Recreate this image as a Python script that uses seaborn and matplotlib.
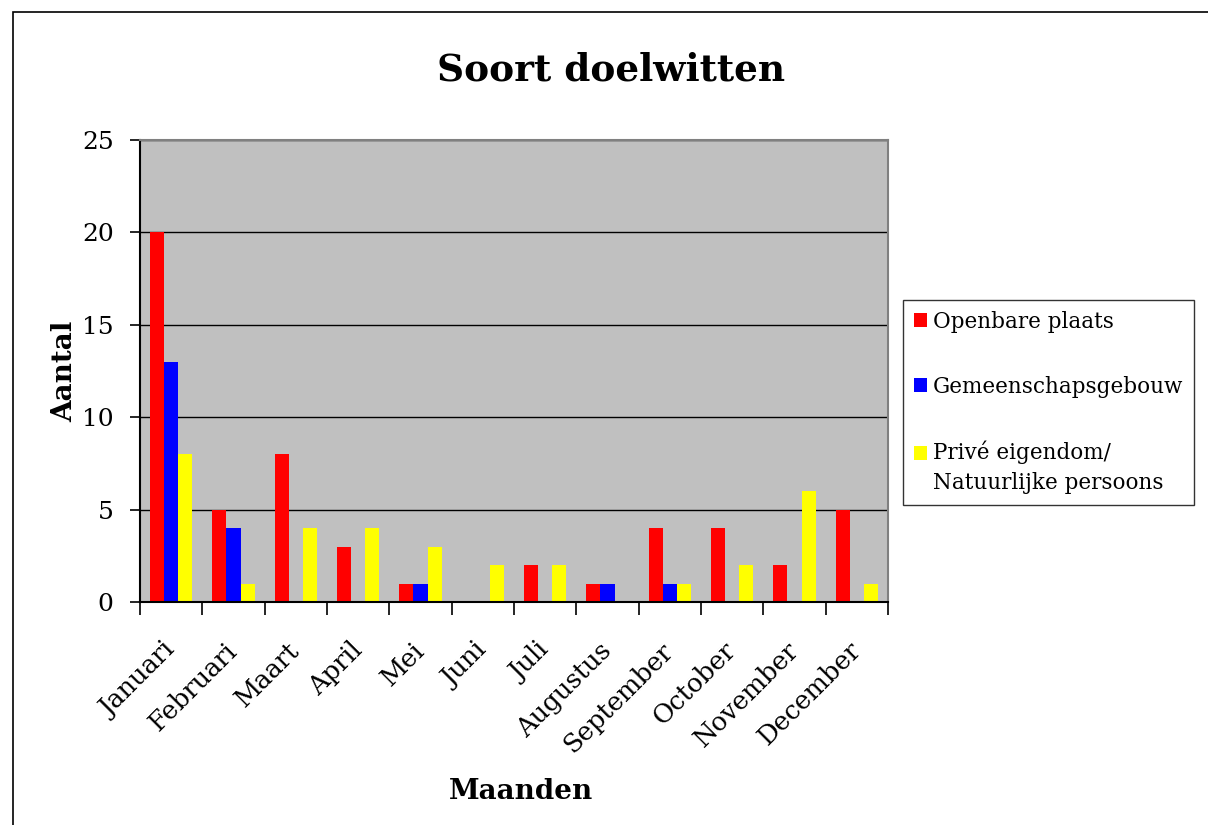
import pandas as pd
import matplotlib
matplotlib.use("Agg")
import matplotlib.pyplot as plt
from matplotlib.patches import Patch, Rectangle
import seaborn as sns

sns.set_style("white")
plt.rcParams['font.family'] = ['DejaVu Serif', 'Liberation Serif']
plt.rcParams['text.color'] = 'black'
plt.rcParams['axes.labelcolor'] = 'black'
plt.rcParams['xtick.color'] = 'black'
plt.rcParams['ytick.color'] = 'black'

# data
maanden = ["Januari", "Februari", "Maart", "April", "Mei", "Juni", "Juli",
           "Augustus", "September", "October", "November", "December"]
openbare = [20, 5, 8, 3, 1, 0, 2, 1, 4, 4, 2, 5]
gemeenschap = [13, 4, 0, 0, 1, 0, 0, 1, 1, 0, 0, 0]
prive = [8, 1, 4, 4, 3, 2, 2, 0, 1, 2, 6, 1]

series = ["Openbare plaats", "Gemeenschapsgebouw",
          "Privé eigendom/\nNatuurlijke persoons"]
kleuren = ["#ff0000", "#0000ff", "#ffff00"]

df = pd.DataFrame({"Maand": maanden * 3,
                   "Soort": [series[0]] * 12 + [series[1]] * 12 + [series[2]] * 12,
                   "Aantal": openbare + gemeenschap + prive})

fig = plt.figure(figsize=(12.08, 8.25), dpi=100)
ax = fig.add_axes([140 / 1208, 1 - 602 / 825, 748 / 1208, 462 / 825])

sns.barplot(data=df, x="Maand", y="Aantal", hue="Soort", order=maanden,
            hue_order=series, palette=kleuren, width=0.68, linewidth=0,
            saturation=1, ax=ax, legend=False)

ax.set_facecolor("#c0c0c0")
ax.set_ylim(0, 25)
ax.set_xlim(-0.5, 11.5)
ax.set_yticks(range(0, 26, 5))
ax.yaxis.grid(True, color="black", linewidth=1)
ax.set_axisbelow(True)
for s in ["top", "right"]:
    ax.spines[s].set_color("#808080")
    ax.spines[s].set_linewidth(1.5)
for s in ["left", "bottom"]:
    ax.spines[s].set_color("black")
    ax.spines[s].set_linewidth(1.5)

# tick marks between groups, labels at group centres
ax.set_xticks([i - 0.5 for i in range(13)], minor=True)
ax.tick_params(axis="x", which="minor", direction="out", length=9, width=1.2,
               color="black", bottom=True)
ax.tick_params(axis="x", which="major", length=0, pad=32, labelsize=18.5)
ax.tick_params(axis="y", direction="out", length=7, width=1.2, color="black",
               left=True, labelsize=18, pad=12)
plt.setp(ax.get_xticklabels(), rotation=45, ha="right", va="center",
         rotation_mode="anchor")

ax.set_xlabel("Maanden", fontsize=20, fontweight="bold")
ax.set_ylabel("Aantal", fontsize=20, fontweight="bold")
ax.xaxis.set_label_coords(0.51, -0.38)
ax.yaxis.set_label_coords(-0.083, 0.5)

fig.text(611 / 1208, 1 - 70 / 825, "Soort doelwitten", fontsize=27,
         fontweight="bold", ha="center", va="center")

handles = [Patch(facecolor=c, edgecolor="none") for c in kleuren]
leg = fig.legend(handles, series, loc="upper left",
                 bbox_to_anchor=(903 / 1208, 1 - 300 / 825),
                 fontsize=15.5, frameon=True, fancybox=False, edgecolor="black",
                 handlelength=0.6, handleheight=0.6, handletextpad=0.3,
                 labelspacing=2.0, borderpad=0.5, borderaxespad=0)
leg.get_frame().set_linewidth(1)
for t in leg.get_texts():
    t.set_linespacing(1.45)
# put the last swatch next to the first line of its two-line label
last = leg.legend_handles[2]
last.set_y(last.get_y() + 11)

# figure border
fig.patches.append(Rectangle((13 / 1208, -0.1), 1.2, 1.1 - 12 / 825,
                             transform=fig.transFigure, fill=False,
                             edgecolor="black", linewidth=1.2))

fig.savefig("out.png", dpi=100)
